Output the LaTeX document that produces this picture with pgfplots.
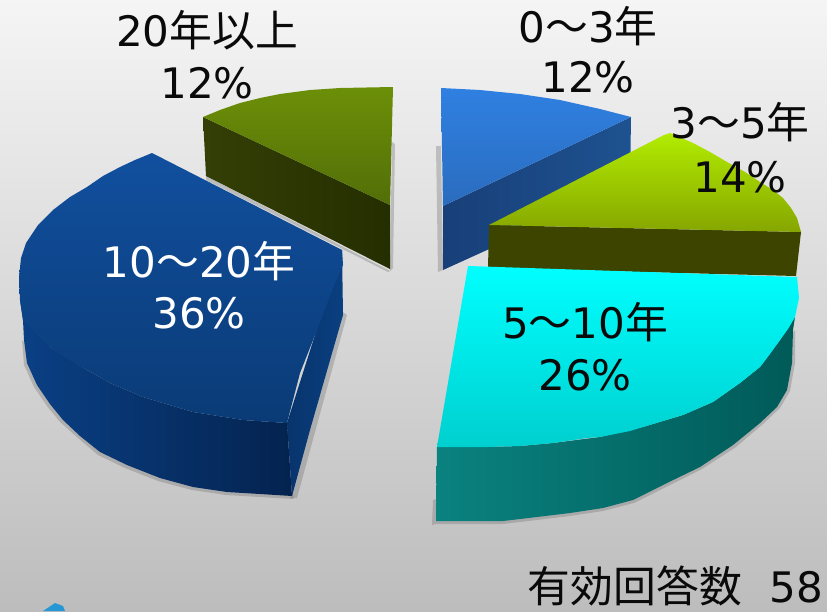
\documentclass[border=0pt]{standalone}
\usepackage{fontspec}
\usepackage{pgfplots}
\pgfplotsset{compat=1.18}
\setmainfont{DejaVu Sans}
\newfontfamily\cjk[Scale=1.02]{Noto Sans CJK JP}
\newcommand{\J}[1]{{\cjk #1}}
\definecolor{ink}{HTML}{0A0A0A}
% slice faces
\definecolor{oliveA}{HTML}{6C8F08}\definecolor{oliveB}{HTML}{526E08}
\definecolor{oliveS1}{HTML}{343F06}\definecolor{oliveS2}{HTML}{252E00}
\definecolor{navyA}{HTML}{114F9E}\definecolor{navyB}{HTML}{0A3B76}
\definecolor{navyS1}{HTML}{0A4085}\definecolor{navyS2}{HTML}{062B60}\definecolor{navyS3}{HTML}{04234F}
\definecolor{navyP1}{HTML}{0A3F80}\definecolor{navyP2}{HTML}{08346C}
\definecolor{blueA}{HTML}{2F80E2}\definecolor{blueB}{HTML}{2A6CBE}
\definecolor{blueS1}{HTML}{183F78}\definecolor{blueS2}{HTML}{1E5290}
\definecolor{limeA}{HTML}{B2EC00}\definecolor{limeB}{HTML}{86A600}
\definecolor{limeS}{HTML}{3C4400}
\definecolor{cyanA}{HTML}{00FFFF}\definecolor{cyanB}{HTML}{00CFCF}
\definecolor{cyanS1}{HTML}{0A827F}\definecolor{cyanS2}{HTML}{005650}\definecolor{cyanS3}{HTML}{005A58}
\tikzset{
  lab/.style={anchor=base, inner sep=0pt, font=\fontsize{42}{42}\selectfont, text=ink},
  face/.style={draw=none, no markers},
  drop/.style={draw=none, fill=black!55, opacity=0.35, no markers}
}
\begin{document}
\begin{tikzpicture}
\begin{axis}[
  scale only axis, width=827pt, height=611pt,
  xmin=0, xmax=827, ymin=0, ymax=611, y dir=reverse,
  hide axis, clip=true,
]
% backdrop
\addplot[draw=none, top color=white!96!black, bottom color=white!74!black, no markers]
  coordinates {(0,0) (827,0) (827,611) (0,611)};

% soft edge shadows
\addplot[drop] coordinates {(436,146) (441,146) (443,270) (438,272)};
\addplot[drop] coordinates {(392,142) (395,144) (393,268) (390,271)};
\addplot[drop] coordinates {(206,176) (390,271) (388,272) (206,180)};
\addplot[drop] coordinates {(343,312) (347,315) (297,498) (290,498)};
\addplot[drop] coordinates {(22,340) (24,365) (34,387) (47,406) (60,422) (78,438) (98,455) (125,468) (158,481) (192,490) (226,495) (260,497) (294,499) (292,490) (100,420)};
\addplot[drop] coordinates {(795,330) (795,363) (790,391) (780,408) (763,424) (736,447) (702,469) (668,486) (634,503) (603,511) (570,516) (537,520) (503,524) (436,524) (432,525) (433,500) (700,430)};

% 20 years and over
\addplot[face, left color=oliveS1, right color=oliveS2]
  coordinates {(203,117) (390,205) (390,269) (206,176)};
\addplot[face, top color=oliveA, bottom color=oliveB]
  coordinates {(203,117) (220,110) (240,103) (260,98) (280,94) (310,90) (340,88) (393,87) (390,205)};

% 10 to 20 years
\addplot[face, left color=navyS1, middle color=navyS2, right color=navyS3]
  coordinates {(20,300) (23,320) (24,340) (27,363) (37,385) (50,404) (63,420) (80,436) (100,452) (127,465) (160,478) (193,487) (227,492) (260,494) (292,496) (287,423) (243,420) (193,412) (143,397) (110,383) (87,370) (50,347)};
\addplot[face, left color=navyP2, right color=navyP1]
  coordinates {(342,250) (343,315) (310,430) (292,496) (287,423)};
\addplot[face, top color=navyA, bottom color=navyB]
  coordinates {(152,153) (342,250) (343,265) (335,283) (317,330) (300,373) (287,423) (243,420) (193,412) (143,397) (110,383) (87,370) (65,357) (50,347) (35,333) (23,320) (20,300) (19,277) (21,258) (26,243) (38,225) (53,210) (70,197) (87,187) (103,176) (120,167) (135,160)};

% 0 to 3 years
\addplot[face, left color=blueS1, right color=blueS2]
  coordinates {(443,206) (631,117) (630,185) (443,270)};
\addplot[face, top color=blueA, bottom color=blueB]
  coordinates {(441,88) (480,90) (520,94) (560,100) (600,109) (631,117) (443,206)};

% 3 to 5 years
\addplot[face, fill=limeS]
  coordinates {(489,225) (801,232) (796,276) (488,268)};
\addplot[face, top color=limeA, bottom color=limeB]
  coordinates {(664,135) (670,133) (693,143) (710,152) (727,162) (745,172) (760,182) (773,190) (783,198) (791,208) (797,218) (801,232) (489,225)};

% 5 to 10 years
\addplot[face, left color=cyanS1, middle color=cyanS2, right color=cyanS3]
  coordinates {(437,447) (436,521) (470,521) (503,521) (537,517) (570,513) (603,508) (633,500) (667,483) (700,467) (733,445) (760,423) (777,407) (787,390) (792,363) (793,330) (795,317) (780,340) (760,367) (740,383) (713,402) (683,415) (643,427) (600,437) (553,443) (520,446) (487,447)};
\addplot[face, top color=cyanA, bottom color=cyanB]
  coordinates {(468,266) (797,277) (799,298) (795,317) (788,329) (780,340) (770,354) (760,367) (740,383) (713,402) (683,415) (663,421) (643,427) (630,431) (600,437) (587,438) (553,443) (520,446) (487,447) (437,447)};

% logo fragment at the lower edge
\addplot[face, fill=blue!35!cyan!80!black!85] coordinates {(43,611) (55,603) (63,606) (65,611)};

% labels
\node[lab] at (axis cs:207,46) {20\J{年以上}};
\node[lab] at (axis cs:207,98) {12\%};
\node[lab] at (axis cs:588,42) {0\J{～}3\J{年}};
\node[lab] at (axis cs:588,92) {12\%};
\node[lab] at (axis cs:740,138) {3\J{～}5\J{年}};
\node[lab] at (axis cs:740,192) {14\%};
\node[lab, text=white] at (axis cs:199,277) {10\J{～}20\J{年}};
\node[lab, text=white] at (axis cs:199,328) {36\%};
\node[lab] at (axis cs:585,338) {5\J{～}10\J{年}};
\node[lab] at (axis cs:585,390) {26\%};
\node[lab, anchor=base east] at (axis cs:823,602) {\J{有効回答数}\hspace{0.65em}58};
\end{axis}
\end{tikzpicture}
\end{document}
